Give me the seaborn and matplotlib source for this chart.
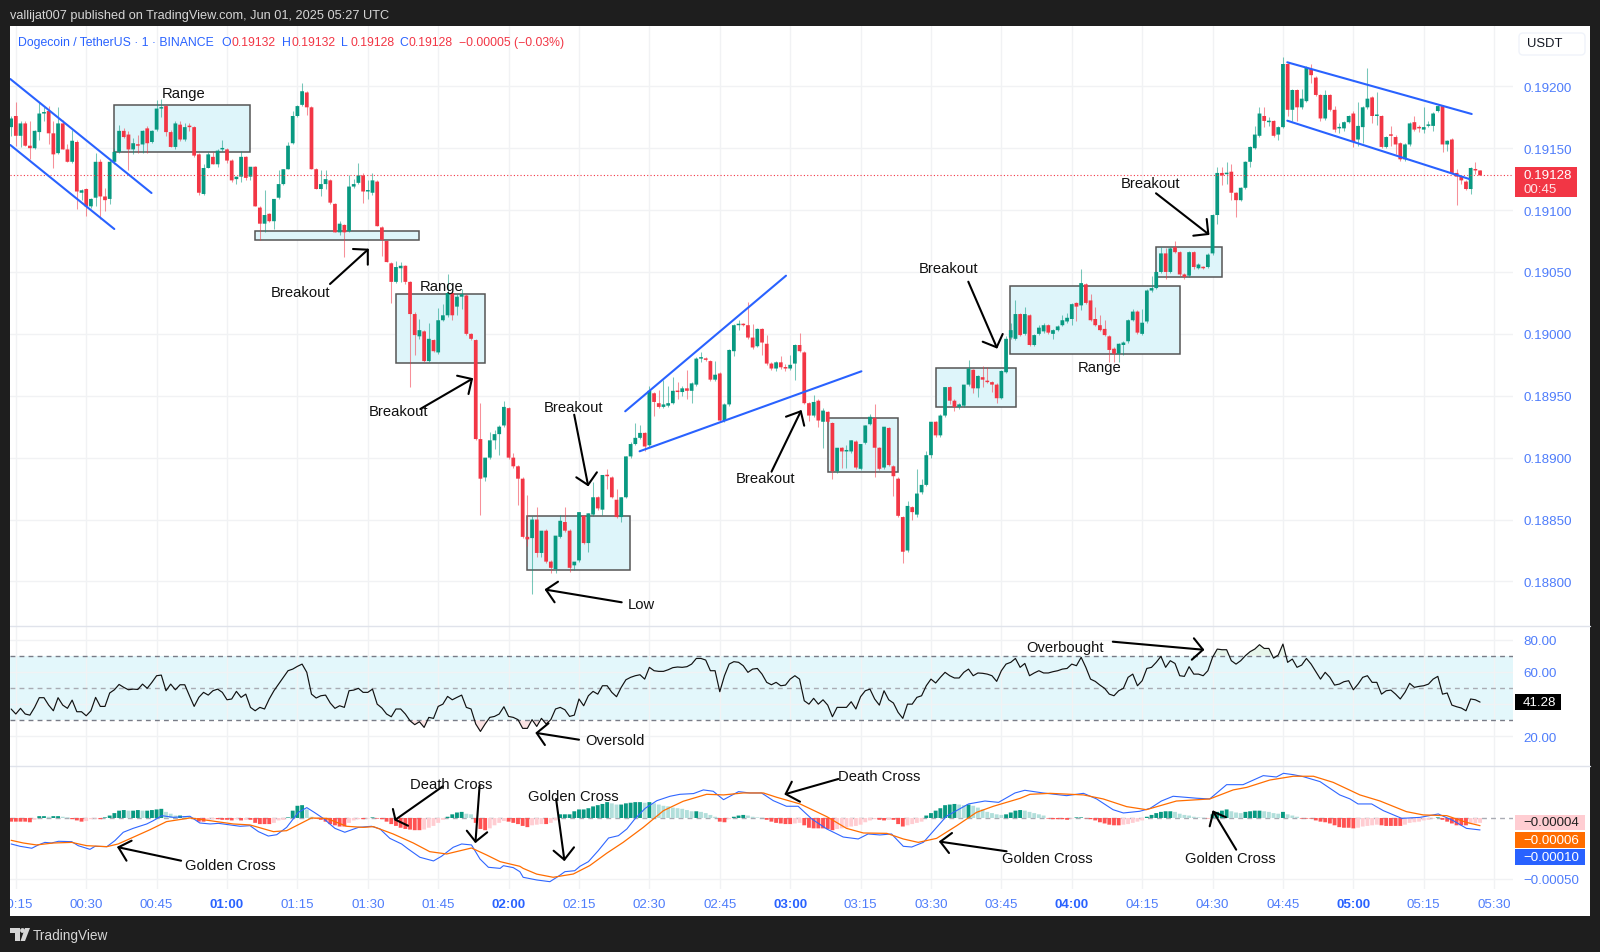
import numpy as np
import matplotlib
matplotlib.use("Agg")
import matplotlib.pyplot as plt
import seaborn as sns
from matplotlib.patches import Rectangle, Polygon, Circle, FancyBboxPatch
from matplotlib.lines import Line2D
from matplotlib.transforms import Affine2D

# ---------------- data: one candle per minute from 00:14 to 05:27 (prices in 1e-5 USDT)
first_minute = 14
opens = [
19167,19176,19160,19170,19152,19150,19163,19178,19180,19162,
19146,19170,19149,19139,19155,19114,19117,19103,19110,19139,
19111,19109,19139,19147,19164,19161,19149,19153,19153,19166,
19155,19165,19182,19184,19163,19151,19169,19157,19168,19167,
19145,19113,19134,19143,19137,19149,19149,19140,19125,19127,
19143,19127,19135,19102,19089,19097,19091,19110,19121,19133,
19154,19176,19185,19195,19183,19133,19117,19121,19124,19105,
19082,19088,19083,19119,19122,19128,19115,19114,19123,19086,19075,
19057,19042,19053,19055,19042,19016,18998,19002,18978,18995,
18985,19011,19015,19033,19022,19030,19031,19000,18995,18915,
18884,18900,18914,18919,18926,18940,18900,18893,18883,18836,
18835,18850,18823,18841,18816,18810,18836,18848,18841,18813,
18817,18853,18831,18854,18868,18858,18886,18884,18866,18852,
18868,18901,18911,18916,18920,18910,18952,18944,18941,18942,
18944,18954,18953,18956,18954,18959,18980,18980,18978,18963,
18968,18930,18943,18986,19007,19008,19007,18997,18990,19004,
18992,18976,18972,18977,18973,18972,18976,18991,18985,18944,
18934,18946,18929,18937,18928,18889,18908,18905,18905,18913,
18891,18912,18927,18932,18908,18892,18924,18893,18883,18852,
18825,18860,18854,18872,18878,18902,18929,18918,18934,18957,
18946,18941,18942,18959,18971,18956,18965,18962,18961,18959,
18948,18969,18997,18996,19016,19000,19015,18991,19000,19002,
19007,19000,19003,19007,19010,19012,19025,19023,19040,19027,
19012,19007,19004,18998,18988,18984,18991,18994,19011,19018,
19000,19010,19035,19037,19050,19065,19050,19070,19066,19048,
19047,19066,19053,19054,19054,19065,19096,19130,19129,19131,
19114,19108,19118,19139,19150,19160,19176,19171,19172,19161,
19167,19218,19181,19197,19183,19188,19214,19207,19193,19174,
19193,19181,19166,19166,19171,19178,19157,19167,19183,19191,
19176,19176,19151,19161,19159,19154,19141,19153,19171,19167,
19165,19168,19168,19180,19184,19153,19157,19130,19127,19123,
19117,19133,19132]
highs = [
19176,19187,19172,19172,19172,19165,19187,19183,19184,19172,
19183,19173,19153,19165,19157,19117,19118,19110,19146,19141,
19118,19141,19150,19169,19166,19164,19158,19161,19165,19168,
19165,19189,19190,19185,19165,19172,19172,19170,19170,19168,
19146,19137,19147,19147,19149,19157,19150,19141,19127,19148,
19144,19135,19136,19103,19116,19098,19109,19132,19133,19155,
19180,19185,19203,19196,19184,19134,19132,19132,19125,19106,
19091,19089,19128,19125,19138,19130,19124,19130,19124,19087,19076,
19058,19059,19058,19056,19043,19018,19012,19003,19009,18996,
19021,19024,19048,19034,19032,19036,19032,19001,18996,18944,
18900,18921,18922,18926,18946,18941,18904,18894,18884,18870,
18853,18860,18841,18842,18817,18837,18854,18860,18842,18816,
18856,18854,18855,18880,18869,18886,18891,18885,18875,18868,
18901,18913,18928,18926,18921,18958,18953,18955,18963,18958,
18965,18961,18958,18971,18961,18981,18985,18981,18979,18978,
18969,18944,18988,19008,19011,19009,19026,19008,19005,19005,
18999,18977,18978,18982,18976,18983,18992,19001,18986,18945,
18951,18947,18940,18938,18929,18908,18909,18910,18914,18914,
18911,18926,18935,18943,18909,18925,18925,18894,18884,18853,
18865,18861,18891,18883,18905,18929,18930,18935,18957,18958,
18947,18944,18959,18979,18972,18967,18974,18973,18962,18960,
18971,18998,19009,19027,19017,19022,19016,19000,19007,19009,
19008,19004,19007,19015,19017,19025,19026,19052,19041,19032,
19022,19015,19011,18999,18989,18993,18994,19012,19020,19019,
19020,19036,19047,19051,19070,19069,19070,19075,19067,19049,
19067,19067,19057,19055,19065,19097,19135,19135,19139,19137,
19115,19119,19140,19152,19168,19183,19183,19175,19173,19168,
19224,19219,19198,19198,19198,19216,19218,19208,19194,19197,
19194,19184,19170,19172,19177,19180,19187,19184,19215,19192,
19195,19177,19160,19168,19161,19155,19154,19171,19176,19169,
19183,19172,19179,19185,19185,19157,19158,19133,19128,19124,
19135,19139,19132]
lows = [
19160,19152,19151,19152,19141,19149,19157,19172,19153,19134,
19145,19149,19139,19138,19101,19108,19095,19102,19103,19093,
19099,19105,19137,19146,19158,19132,19145,19146,19146,19146,
19154,19164,19175,19160,19151,19149,19156,19156,19164,19143,
19112,19112,19134,19137,19135,19148,19138,19123,19121,19123,
19124,19124,19103,19076,19082,19090,19085,19109,19120,19133,
19153,19175,19184,19177,19133,19117,19111,19117,19105,19082,
19080,19062,19082,19118,19121,19106,19109,19112,19087,19063,19058,
19025,19041,19042,19040,18957,18983,18996,18977,18977,18985,
18984,19010,19014,19011,19015,19020,18999,18995,18914,18854,
18881,18899,18907,18902,18925,18899,18892,18862,18835,18829,
18790,18820,18820,18815,18807,18807,18835,18840,18808,18809,
18816,18830,18824,18853,18858,18854,18875,18867,18851,18848,
18867,18900,18910,18915,18905,18909,18934,18940,18940,18941,
18943,18947,18950,18947,18944,18958,18977,18978,18962,18962,
18929,18929,18942,18982,19003,19006,18996,18988,18989,18983,
18975,18971,18970,18972,18970,18971,18963,18985,18943,18930,
18933,18925,18908,18928,18883,18888,18892,18892,18904,18891,
18890,18911,18926,18884,18890,18891,18893,18869,18852,18815,
18824,18850,18852,18871,18877,18900,18917,18917,18933,18943,
18938,18939,18941,18958,18952,18949,18957,18960,18953,18944,
18947,18968,18996,18995,18998,18999,18990,18990,18999,19001,
19000,18996,19002,19006,19009,19007,19010,19019,19024,19010,
19006,19002,18998,18977,18977,18977,18983,18993,19010,19000,
18999,19009,19034,19036,19049,19044,19049,19065,19047,19044,
19046,19052,19052,19052,19053,19064,19089,19120,19121,19108,
19094,19107,19117,19135,19149,19159,19167,19168,19159,19157,
19166,19176,19172,19172,19182,19187,19203,19192,19172,19173,
19180,19163,19162,19164,19170,19151,19152,19154,19182,19170,
19169,19150,19150,19152,19145,19140,19140,19152,19164,19163,
19162,19167,19164,19179,19147,19148,19129,19104,19121,19116,
19113,19129,19128]
closes = [
19174,19160,19170,19152,19150,19164,19178,19179,19162,19145,
19170,19149,19139,19156,19115,19116,19103,19109,19139,19111,
19108,19139,19147,19164,19159,19149,19154,19152,19164,19154,
19164,19182,19183,19163,19151,19170,19157,19167,19167,19144,
19114,19134,19145,19137,19148,19150,19140,19124,19127,19143,
19126,19135,19103,19089,19096,19091,19109,19121,19133,19152,
19176,19184,19196,19183,19133,19117,19121,19125,19106,19082,
19089,19082,19119,19121,19128,19115,19115,19124,19087,19076,19058,
19042,19054,19055,19042,19016,18999,19003,18978,18996,18986,
19011,19015,19033,19015,19030,19032,19000,18996,18915,18883,
18900,18914,18919,18925,18941,18900,18893,18883,18836,18834,
18850,18823,18841,18816,18811,18837,18849,18841,18811,18816,
18856,18831,18855,18868,18859,18886,18885,18868,18852,18868,
18901,18911,18916,18920,18909,18954,18945,18941,18943,18944,
18954,18953,18956,18954,18960,18980,18981,18979,18963,18967,
18930,18943,18987,19007,19008,19007,18997,18989,19004,18993,
18976,18972,18977,18973,18972,18975,18991,18986,18944,18934,
18945,18930,18938,18929,18889,18908,18905,18905,18914,18892,
18911,18926,18933,18908,18891,18925,18894,18885,18853,18824,
18861,18856,18871,18878,18902,18929,18918,18934,18957,18946,
18941,18943,18959,18972,18956,18966,18963,18961,18959,18948,
18970,18996,19003,19016,18999,19016,18991,18999,19005,19007,
19001,19003,19006,19011,19013,19024,19022,19041,19025,19011,
19007,19003,18999,18987,18984,18992,18993,19011,19018,19001,
19009,19035,19037,19050,19065,19050,19069,19066,19048,19046,
19066,19054,19056,19053,19064,19096,19130,19128,19130,19114,
19108,19118,19139,19151,19161,19178,19172,19172,19160,19167,
19218,19181,19197,19183,19190,19215,19209,19193,19174,19193,
19181,19165,19166,19171,19176,19155,19168,19183,19190,19176,
19177,19151,19159,19160,19153,19141,19153,19170,19165,19166,
19167,19169,19178,19184,19153,19156,19130,19127,19124,19117,
19134,19132,19128]
last_price = 19128

rsi_values = [
37.0,33.9,37.4,33.9,33.2,38.0,44.0,44.0,39.4,35.9,44.0,39.4,37.4,42.5,35.3,35.3,32.8,35.9,44.2,38.6,
38.6,46.9,48.9,52.2,50.4,48.9,49.3,49.1,52.4,49.8,53.5,57.6,58.0,48.3,52.4,48.9,52.0,52.0,45.2,38.6,
44.2,47.3,45.6,48.3,49.3,47.3,42.7,43.2,47.9,44.2,46.2,38.0,35.9,38.0,37.0,43.2,48.3,52.4,56.6,60.7,
61.7,63.4,64.8,59.7,46.2,43.8,45.2,45.6,40.7,37.4,39.0,38.0,48.3,48.7,49.8,47.3,47.3,49.3,40.0,37.6,
33.9,32.2,37.0,37.0,33.9,29.7,27.3,29.1,25.6,31.8,31.2,38.6,40.0,44.8,42.7,44.2,45.6,38.0,37.0,27.7,
23.1,27.7,31.8,32.4,33.9,38.4,32.4,31.8,30.4,25.0,25.0,30.4,26.2,31.2,27.7,30.4,37.0,38.0,36.5,32.4,
33.2,43.2,39.0,45.2,47.9,46.2,51.4,51.4,47.3,44.6,50.4,55.1,56.6,57.6,58.2,55.5,62.8,60.7,60.3,60.3,
61.3,62.6,63.0,62.8,63.2,64.8,68.3,68.3,67.3,60.7,60.7,47.7,57.6,64.8,66.3,65.9,63.8,59.7,61.7,62.1,
58.6,53.5,52.0,53.5,51.4,51.8,55.5,57.6,55.5,42.1,40.0,43.6,40.0,42.7,39.4,32.2,38.0,38.0,38.0,41.5,
37.0,44.6,48.3,49.3,43.2,39.4,48.3,42.7,40.7,34.9,31.2,40.0,40.0,44.2,45.2,51.4,55.5,53.1,56.6,59.7,
57.6,56.2,56.2,59.7,61.7,57.6,59.3,59.1,58.6,57.6,54.1,60.7,64.8,65.9,68.3,62.8,65.2,57.6,59.3,60.7,
59.3,59.3,60.1,60.7,61.7,62.1,64.8,63.8,69.0,62.8,55.5,54.1,51.8,49.8,46.2,45.2,48.3,49.8,56.6,58.6,
51.4,54.5,62.1,62.8,65.9,69.6,62.8,66.9,65.2,57.6,57.2,63.2,58.6,58.6,57.6,60.7,69.0,74.1,73.7,73.7,
66.9,64.8,66.9,70.0,72.5,74.1,76.8,74.5,74.5,68.5,70.4,77.2,65.9,67.9,62.8,64.2,68.3,64.8,60.1,55.5,
59.7,56.6,51.8,52.4,53.9,54.5,48.9,52.4,56.6,57.6,53.5,53.5,46.2,48.3,48.7,46.2,43.2,47.3,52.9,50.4,
51.0,51.4,52.4,55.5,57.2,46.2,46.9,39.4,38.4,37.6,35.9,43.2,42.7,41.28]

hist_values = [
-3,-3,-3,-3,-3.5,-1.5, 1.5,1.5,1,1.5,1.5,1,0.5, -1,-2,-3,-2.5,-1,-0.5,-1, 0.5,2,4,6,6.5,
6,6,6.5,6,6,6.5,7,7.5,5,3.5,2,2,1.5,1,
-1,-3,-3,-1.5,-1,-1,-1.5,-1.5,-2,-1,-2,-1.5,-1.5,-4,-5,-5,-5,-4,-2,-1.5,
0.5,6,10,10.5,7,1,
-0.5,-1.5,-3,-5,-6,-7,-7,-4,-2,-1,-1,-0.5,0.5,-0.5,
-1,-3,-5,-6.5,-8,-9,-9.5,-10,-10,-9.5,-8,-6.5,-4,-1.5,
1,3,4.5,5,3.5,3,
-4,-9,-10,-8.5,-6,-4,-2.5,-3,-4,-5,-6.5,-7.5,-6,-5.5,-5,-5,-4,-2,
3,3,3,5.5,7,7,8,9.5,10.5,11.5,13,12,11,11,12,12.5,13,13,12.5,13,12,11,10,9.5,8.5,8,7.5,6.5,5.5,5.5,5,4,2.5,1,
-3,-3.5,-1,1,2,2.5,2,1,0.5,0.3,-1.5,-3,-4,-4.5,-5,-5,-4.5,-4,
-6,-8,-8.5,-8.5,-8.5,-9,-10,-9,-8.5,-8,-7,-6.5,-5.5,-3.5,-2,-1,-1.5,-2,-1.5,-1.5,-5,-7,-6,-5,-4,-3,
2,4,6,8,10.5,11,11.5,11,10.5,11,10,8.5,7,5,4,3,2.5,3,4.5,6,6.5,6,5,4,3,2,
-0.5,-1,-1,-1,-1.5,-0.5,0.5,0.5,-0.3,-1,-2,
-3.5,-4.5,-5.5,-6,-6,-5.5,-5,-4,-3,-2,
1,2.5,4,5,5.5,5.5,5,3.5,2.5,2,1,0.5,0.3,-0.3,
3,5,6,7,5.5,4.5,4,5,5.5,6,6,5.5,5,4,3.5,5,3,2,1,
-0.5,-0.5,-0.5,-2,-3,-3.5,-4.5,-6,-7.5,-8,-8,-8.5,-8,-7,-6.5,-6,-5.5,-6,-6.5,-6.5,-6.5,-6.5,-5.5,-4,-3.5,-3,-2,-1.5,-0.5,
0.5,-1.5,-3,-4.5,-6,-6,-6,-5,-4.5,-4]

macd_minutes = [14,15.9,18.4,19.8,21.2,22.6,24.1,26.9,28.3,30.8,31.9,34.4,36.1,37.9,40,42.9,44.3,46.1,48.6,52.1,54.2,56.4,58.2,60.6,62.8,64.9,66.7,68.8,70.6,72.7,75.2,77,78.8,80.5,83,85.1,88,90.8,92.6,94.7,97.2,98.6,101.1,104,105.7,108.2,110,112.1,113.9,115.7,118.2,118.9,121,122.4,
123.1,126,128.8,130.6,132,134.1,135.2,137,139.1,141.3,143.4,145.2,146.9,149.1,151.6,154.4,156.5,159.4,161.5,163.6,165.8,169,171.4,173.9,176.4,179.2,181.7,184.6,187.8,191.3,194.5,196.6,199.1,201.6,204.1,205.9,208.4,211.2,213.3,218,221.5,224.4,227.9,230,
233.9,238.9,242.5,245.3,248.8,251,254.5,256.7,259.1,261.6,266.6,269.4,273,276.5,280.8,283.6,285.1,287.2,289.3,292.9,297.1,299.3,301,303.9,306.4,310.3,314.2,318.1,321.3,324.1,327]
macd_values = [-21.3,-23.2,-24.8,-22.1,-20,-20.5,-19.1,-19.4,-22.7,-25.7,-23.2,-23.5,-18.6,-11.7,-8.5,-4.9,-2.2,1.9,0.5,1.4,-4.1,-4.9,-4.4,-5.7,-6.8,-6.3,-11.2,-14.8,-13.7,-7.7,4.6,8.5,4.1,-0.3,-8.5,-11.7,-7.7,-6.8,-9,-16.7,-21.3,-25.4,-32.2,-35.2,-31.4,-24,-21.3,-22.1,-33.6,-40.4,-41.3,-39.1,-40.7,-44,
-48.6,-50.8,-52.2,-47.8,-44,-43.2,-39.6,-35.8,-26.8,-16.4,-14.5,-9,-0.8,7.9,14.2,17.8,19.4,20,23,21.9,15,21.6,20.5,20.5,14.2,9.6,9.6,-0.8,-9,-15.6,-17.2,-13.1,-13.9,-13.1,-23.2,-23.8,-19.9,-7.7,1.4,11.5,13.9,12.8,20.5,22.7,
20.5,18.3,20.2,15.6,6.8,4.1,5.5,7.9,13.9,17.8,16.2,15.6,27.3,27.3,34.7,33.6,36.6,35.5,33.9,29.8,18.9,15.6,11.5,11.5,6,-0.3,0.5,3.3,-2.2,-8.5,-9.8]
signal_minutes = [14,16.6,19.4,23,26.9,30.1,34.4,36.8,40,43.6,47.1,52.1,56.4,61.3,64.9,69.9,72.7,75.5,78,81.2,85.5,89,91.2,95.4,99.7,103.2,106.8,112.1,115.3,118.2,122.4,
123.1,126,129.5,133.8,137.3,140.9,144.4,148.7,153,157.2,162.2,165.8,170,174.3,177.1,182.1,187.8,192,195.6,200.6,204.1,207.3,211.2,215.5,219.7,223.3,229,
231.1,235.4,242.5,246.7,251.7,255.9,262.3,269.4,274.4,277.3,282.2,287.2,291.5,295.7,301.4,305.7,311.3,314.9,319.9,324.1,327]
signal_values = [-18.3,-20.5,-22.1,-20.5,-20,-22.7,-23.5,-21.3,-15.8,-9.6,-3,0,-2.2,-4.9,-5.7,-11.2,-10.4,-4.9,0,-0.3,-6.8,-7.7,-7.1,-13.1,-20.5,-27.6,-29.5,-24.6,-30.3,-35.8,-39.6,
-41.3,-46,-48.6,-45.9,-39,-28.9,-20,-7.7,6,13.7,19.4,18.9,20.5,20.5,17,11.5,1.1,-8.5,-12.3,-12.6,-17.2,-20,-16.7,-6.3,4.6,9.6,16.1,
19.4,20.2,18.9,15.6,9.3,6.8,13.9,15.6,23,25.1,31.1,34.2,34.2,29.2,18.9,13.9,5.2,2.5,1.9,-3.6,-6.3]

price_ticks = [0.192,0.1915,0.191,0.1905,0.19,0.1895,0.189,0.1885,0.188]
rsi_ticks = [80,60,40,20]
time_labels = {m: f"{m//60:02d}:{m%60:02d}" for m in range(15, 331, 15)}

# ---------------- drawings, positioned in image pixels (x, y from the top-left)
W, H = 1600, 953
BLUE, RED, GREEN = "#2962ff", "#f23645", "#089981"
AXIS_BLUE = "#4f7dfb"
FONT = ["Liberation Sans", "DejaVu Sans"]

range_boxes = [(114.3,105.7,250.3,153.3),(255,232,419.4,240.7),(395.8,295,485.3,364.3),
               (527.4,517.3,630.3,571),(827.6,419.3,898.2,473.3),(935.7,369,1015.7,408),
               (1010.3,286.7,1179.7,355.3),(1156.3,248.3,1222.3,277.7)]
trend_lines = [((10.3,80),(151.5,194)),((10.3,146),(114.3,230)),((625.2,412.3),(786,276.7)),
               ((639.6,452.3),(861.4,372.3)),((1287.3,63.3),(1471.7,115)),((1287.3,121.7),(1469.3,180))]
arrows = [
 ((330,285),(367.8,250.7),(353,250),(367.8,265.7)),
 ((420.3,410),(471.9,380),(457.1,376.7),(468.5,395)),
 ((574.2,415.7),(588,486),(576.3,478.3),(596.9,473.3)),
 ((621.7,603.3),(546,590.7),(558,582.7),(554.6,603.3)),
 ((771.5,472.7),(800.8,412.3),(786,417.7),(804.2,426.7)),
 ((968.3,282.7),(996.7,348.3),(982.7,342.7),(1002.7,335)),
 ((1156,194.3),(1208.3,235),(1193.3,236.7),(1206.7,220)),
 ((579,740.7),(536.7,734),(548.5,724.3),(544.9,746)),
 ((1112.8,642.7),(1203,650.7),(1193.9,639.3),(1191.8,660.7)),
 ((181.1,861.7),(118.4,848.3),(131.6,841.7),(126.5,861.7)),
 ((442.9,787.3),(395.4,820.7),(392.9,810),(408,826.7)),
 ((479.6,786.7),(475.5,842.7),(466.8,831.7),(487.2,833.3)),
 ((556.1,800),(564.3,860.7),(553.6,851.7),(574,848.3)),
 ((838.3,780),(785.7,795),(791.8,782.7),(800,802.7)),
 ((1006.6,852.3),(940.3,842.7),(952,834),(949,854)),
 ((1236.2,850.7),(1213.3,812.7),(1209.7,827.3),(1226,818.3)),
]
notes = [("Range",183.5,94.3),("Breakout",300.3,293.3),("Range",442,286.7),("Breakout",398.9,412.3),
         ("Breakout",573.2,408.3),("Low",641.3,605),("Breakout",765.3,479.3),("Breakout",948.3,269),
         ("Range",1099.3,367.7),("Breakout",1150,183.7),("Oversold",614.8,741),("Golden Cross",230.6,866),
         ("Death Cross",451.5,785),("Golden Cross",573,796.7),("Death Cross",879,777),
         ("Golden Cross",1047.4,859),("Golden Cross",1230.6,859),("Overbought",1065.3,647.7)]

# ---------------- figure
sns.set_theme(style="white")
plt.rcParams["font.family"] = FONT
plt.rcParams["axes.unicode_minus"] = False
fig = plt.figure(figsize=(W/100, H/100), dpi=100, facecolor="#1e1e1e")
PX = Affine2D().scale(1, -1).translate(0, H)

def pane(top, bottom, left=10, right=1513):
    ax = fig.add_axes([left/W, 1-bottom/H, (right-left)/W, (bottom-top)/H])
    ax.set_xlim(13.76, 334.02)
    ax.set_xticks(list(time_labels))
    ax.grid(True, color="#f1f2f4", lw=1)
    ax.set_axisbelow(True)
    for s in ax.spines.values():
        s.set_visible(False)
    ax.yaxis.tick_right()
    ax.tick_params(axis="y", length=0, pad=7.4, labelsize=9.6, labelcolor=AXIS_BLUE)
    ax.tick_params(axis="x", length=0, labelbottom=False)
    return ax

fig.add_artist(Rectangle((10, 27), 1580, 890, transform=PX, fc="white", ec="none", zorder=-5))

minutes = np.arange(first_minute, first_minute + len(closes))
o, h, l, c = [np.array(a) / 1e5 for a in (opens, highs, lows, closes)]

# main pane
ax = pane(27, 627)
ax.set_ylim(0.18764, 0.192487)
ax.set_yticks(price_ticks)
ax.set_yticklabels([f"{t:.5f}" for t in price_ticks], ha="left")
for x0, y0, x1, y1 in range_boxes:
    ax.add_patch(Rectangle((x0, y0), x1-x0, y1-y0, transform=PX, fc="#def5fa", ec="#555555",
                           lw=1.1, zorder=1, clip_on=False))
up = c >= o
cols = np.where(up, GREEN, RED)
ax.vlines(minutes, l, h, colors=cols, lw=0.75, alpha=0.55, zorder=2)
bodies = ax.bar(minutes, np.maximum(np.abs(c-o), 0.000012), bottom=np.minimum(o, c), width=0.8, color=cols, lw=0, zorder=3)
for b in bodies:
    b.set_snap(False)
ax.axhline(last_price/1e5, color=RED, lw=0.8, ls=(0, (1, 2)), zorder=4)
for (a, b) in trend_lines:
    ax.add_line(Line2D([a[0], b[0]], [a[1], b[1]], transform=PX, color=BLUE, lw=1.5, zorder=5, clip_on=False))

# RSI pane
axr = pane(627, 767)
axr.set_ylim(1.7, 88.39)
axr.set_yticks(rsi_ticks)
axr.set_yticklabels([f"{t:.2f}" for t in rsi_ticks], ha="left")
axr.axhspan(30, 70, color="#e3f7fb", lw=0, zorder=0.5)
rsi = np.array(rsi_values)
axr.fill_between(minutes, 30, rsi, where=rsi < 30, color="#fbe3e3", lw=0, interpolate=True, zorder=1)
axr.fill_between(minutes, 70, rsi, where=rsi > 70, color="#e6f4ea", lw=0, interpolate=True, zorder=1)
for level, col in ((70, "#787b86"), (50, "#a9abb3"), (30, "#787b86")):
    axr.axhline(level, color=col, lw=1, ls=(0, (3.5, 3)), zorder=2)
sns.lineplot(x=minutes, y=rsi, ax=axr, color="#111111", lw=0.85, estimator=None, sort=False, zorder=3, legend=False)

# MACD pane
axm = pane(767, 890)
axm.set_ylim(-58.2, 42.6)
axm.set_yticks([-50])
axm.set_yticklabels(["\u22120.00050"], ha="left")
hist = np.array(hist_values, dtype=float)
prev = np.r_[hist[0], hist[:-1]]
hist_cols = np.where(hist >= 0, np.where(hist >= prev, "#089981", "#b2dfdb"),
                     np.where(hist <= prev, "#ff5252", "#ffcdd2"))
axm.axhline(0, color="#a9abb3", lw=1, ls=(0, (3.5, 3)), zorder=1)
bars = axm.bar(minutes, hist, width=0.82, color=hist_cols, lw=0, zorder=2)
for b in bars:
    b.set_snap(False)
sns.lineplot(x=macd_minutes, y=macd_values, ax=axm, color="#2f66ff", lw=0.8, estimator=None, sort=False, zorder=3, legend=False)
sns.lineplot(x=signal_minutes, y=signal_values, ax=axm, color="#ff6d00", lw=0.9, estimator=None, sort=False, zorder=4, legend=False)

for a in (ax, axr, axm):
    a.set_xlabel(""); a.set_ylabel("")
    a.patch.set_alpha(0)

# time axis
axm.tick_params(axis="x", labelbottom=True, pad=6.6, labelsize=9.6)
axm.set_xticklabels(list(time_labels.values()))
for m, lab in zip(time_labels, axm.get_xticklabels()):
    bold = m % 60 == 0
    lab.set_color(BLUE if bold else AXIS_BLUE)
    lab.set_fontweight("bold" if bold else "normal")

# pane separators
for y in (627, 767):
    fig.add_artist(Line2D([10, 1590], [y, y], transform=PX, color="#e0e3eb", lw=1, zorder=6))

# overlay drawings
for tail, tip, b1, b2 in arrows:
    fig.add_artist(Line2D([tail[0], tip[0]], [tail[1], tip[1]], transform=PX, color="black", lw=1.5, zorder=8))
    fig.add_artist(Line2D([b1[0], tip[0], b2[0]], [b1[1], tip[1], b2[1]], transform=PX, color="black", lw=1.5, zorder=8))

def px_text(x, y, s, **kw):
    kw.setdefault("va", "center")
    kw.setdefault("family", FONT)
    t = fig.text(x, y, s, transform=PX, **kw)
    t.set_zorder(9)
    return t

for s, x, y in notes:
    px_text(x, y, s, ha="center", fontsize=10.6, color="#111111")

# header, legend, footer
px_text(10.3, 15.7, "vallijat007 published on TradingView.com, Jun 01, 2025 05:27 UTC", fontsize=9.15, color="#d6d6d6")
px_text(18, 42.7, "Dogecoin / TetherUS \u00b7 1 \u00b7 BINANCE", fontsize=8.8, color=BLUE)
for x, letter, value in ((221.7, "O", "0.19132"), (282, "H", "0.19132"), (341, "L", "0.19128"), (399, "C", "0.19128")):
    px_text(x, 42.7, letter, fontsize=8.8, color=BLUE)
    px_text(x + 9.5, 42.7, value, fontsize=8.8, color=RED)
px_text(459, 42.7, "\u22120.00005 (\u22120.03%)", fontsize=8.8, color=RED)

px_text(33, 936, "TradingView", fontsize=9.8, color="#d6d6d6")
fig.add_artist(Polygon([(10, 929), (20, 929), (20, 942), (15, 942), (15, 934), (10, 934)], transform=PX, fc="#d6d6d6", ec="none"))
fig.add_artist(Polygon([(25, 929), (30, 929), (25, 942), (20.5, 942)], transform=PX, fc="#d6d6d6", ec="none"))
fig.add_artist(Circle((22.5, 931.5), 2.4, transform=PX, fc="#d6d6d6", ec="none"))

# right-hand tags
fig.add_artist(FancyBboxPatch((1519, 34), 66, 22, boxstyle="round,pad=0,rounding_size=4", transform=PX,
                              fc="white", ec="#f0f3fa", lw=1, zorder=7))
px_text(1527, 44.5, "USDT", fontsize=9.4, color="#131722")

def tag(x0, y0, x1, y1, color):
    fig.add_artist(Rectangle((x0, y0), x1-x0, y1-y0, transform=PX, fc=color, ec="none", zorder=7))

tag(1515, 168, 1577, 198, RED)
px_text(1523, 176.5, "0.19128", fontsize=9.6, color="white")
px_text(1523, 190.5, "00:45", fontsize=9.6, color="#ffe3e6")
tag(1515, 695, 1561, 711, "black")
px_text(1523, 703.5, "41.28", fontsize=9.6, color="white")
tag(1515, 815.7, 1585, 831, "#ffcdd2")
px_text(1523, 823.5, "\u22120.00004", fontsize=9.6, color="#222222")
tag(1515, 832.7, 1585, 849, "#ff6d00")
px_text(1523, 841, "\u22120.00006", fontsize=9.6, color="white")
tag(1515, 850, 1585, 866, BLUE)
px_text(1523, 858, "\u22120.00010", fontsize=9.6, color="white")

# the dark frame hides what runs past the left edge of the panel
fig.add_artist(Rectangle((0, 27), 10, 890, transform=PX, fc="#1e1e1e", ec="none", zorder=20))

fig.savefig("out.png", dpi=100, facecolor=fig.get_facecolor())
